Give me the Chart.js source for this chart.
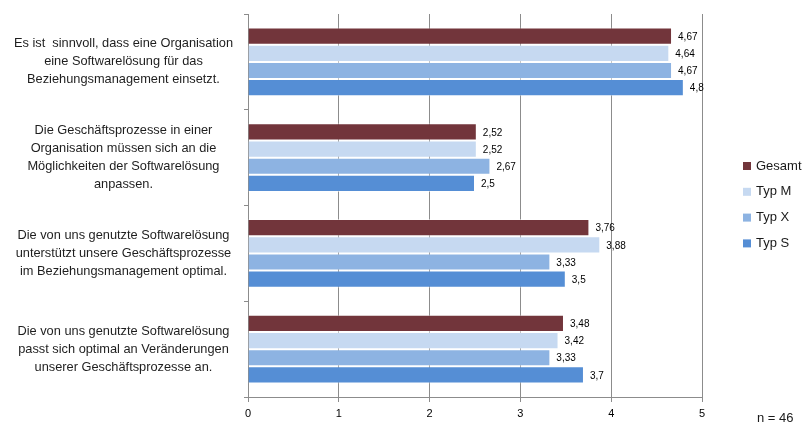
<!DOCTYPE html>
<html>
<head>
<meta charset="utf-8">
<script src="https://cdn.jsdelivr.net/npm/chart.js@4.4.1/dist/chart.umd.min.js"></script>
<style>
  html, body { margin: 0; padding: 0; background: #fff; }
  #wrap { position: relative; width: 805px; height: 423px; }
</style>
</head>
<body>
<div id="wrap"><canvas id="c" width="805" height="423"></canvas></div>
<script>
// Survey statements (multi-line category labels)
const statements = [
  ['Es ist  sinnvoll, dass eine Organisation', 'eine Softwarelösung für das', 'Beziehungsmanagement einsetzt.'],
  ['Die Geschäftsprozesse in einer', 'Organisation müssen sich an die', 'Möglichkeiten der Softwarelösung', 'anpassen.'],
  ['Die von uns genutzte Softwarelösung', 'unterstützt unsere Geschäftsprozesse', 'im Beziehungsmanagement optimal.'],
  ['Die von uns genutzte Softwarelösung', 'passt sich optimal an Veränderungen', 'unserer Geschäftsprozesse an.']
];

// Mean agreement per group
const gesamt = [4.67, 2.52, 3.76, 3.48];
const typM   = [4.64, 2.52, 3.88, 3.42];
const typX   = [4.67, 2.67, 3.33, 3.33];
const typS   = [4.8,  2.5,  3.5,  3.7];

const seriesNames = ['Gesamt', 'Typ M', 'Typ X', 'Typ S'];
const seriesColors = ['#72353B', '#C6D9F1', '#8DB3E2', '#558ED5'];
const sampleNote = 'n = 46';

const FONT = '"Liberation Sans", Arial, sans-serif';

const fmt = v => String(v).replace('.', ',');

// Value labels right of each bar
const valueLabels = {
  id: 'valueLabels',
  afterDatasetsDraw(chart) {
    const ctx = chart.ctx;
    ctx.save();
    ctx.font = '10px ' + FONT;
    ctx.fillStyle = '#000';
    ctx.textAlign = 'left';
    ctx.textBaseline = 'middle';
    chart.data.datasets.forEach((ds, i) => {
      chart.getDatasetMeta(i).data.forEach((bar, j) => {
        ctx.fillText(fmt(ds.data[j]), bar.x + 6, bar.y + 1);
      });
    });
    ctx.restore();
  }
};

// Legend on the right and sample size note
const sideLegend = {
  id: 'sideLegend',
  afterDraw(chart) {
    const ctx = chart.ctx;
    ctx.save();
    ctx.font = '13px ' + FONT;
    ctx.textBaseline = 'middle';
    ctx.textAlign = 'left';
    chart.data.datasets.forEach((ds, i) => {
      const y = 166 + i * 25.8;
      ctx.fillStyle = ds.backgroundColor;
      ctx.fillRect(743, y - 4, 8, 8);
      ctx.fillStyle = '#1a1a1a';
      ctx.fillText(ds.label, 756, y);
    });
    ctx.fillText(sampleNote, 757, 418);
    ctx.restore();
  }
};

const datasets = [gesamt, typM, typX, typS].map((d, i) => ({
  label: seriesNames[i],
  data: d,
  backgroundColor: seriesColors[i],
  borderColor: 'rgba(255,255,255,0.5)',
  borderWidth: 1,
  categoryPercentage: 0.72,
  barPercentage: 1.0
}));

new Chart(document.getElementById('c'), {
  type: 'bar',
  data: { labels: statements, datasets },
  options: {
    indexAxis: 'y',
    responsive: false,
    animation: false,
    layout: { padding: { top: 14, right: 103, left: 0, bottom: 0 } },
    plugins: { legend: { display: false }, tooltip: { enabled: false } },
    scales: {
      x: {
        min: 0, max: 5,
        ticks: { stepSize: 1, color: '#000', font: { family: FONT, size: 11 }, padding: 5, callback: v => v },
        grid: { color: '#8C8C8C', lineWidth: 1, tickLength: 5, drawTicks: true },
        border: { color: '#8C8C8C', width: 1 },
        afterFit(s) { s.height = 26; s.paddingLeft = 0; s.paddingRight = 0; }
      },
      y: {
        ticks: {
          color: '#1e1e1e',
          font: { family: FONT, size: 12.8, lineHeight: 1.4 },
          crossAlign: 'center',
          padding: 11
        },
        grid: { offset: true, drawOnChartArea: false, drawTicks: true, tickLength: 4, color: '#8C8C8C' },
        border: { color: '#8C8C8C', width: 1 },
        afterFit(s) { s.width = 248; s.paddingTop = 0; s.paddingBottom = 0; }
      }
    }
  },
  plugins: [valueLabels, sideLegend]
});
</script>
</body>
</html>
